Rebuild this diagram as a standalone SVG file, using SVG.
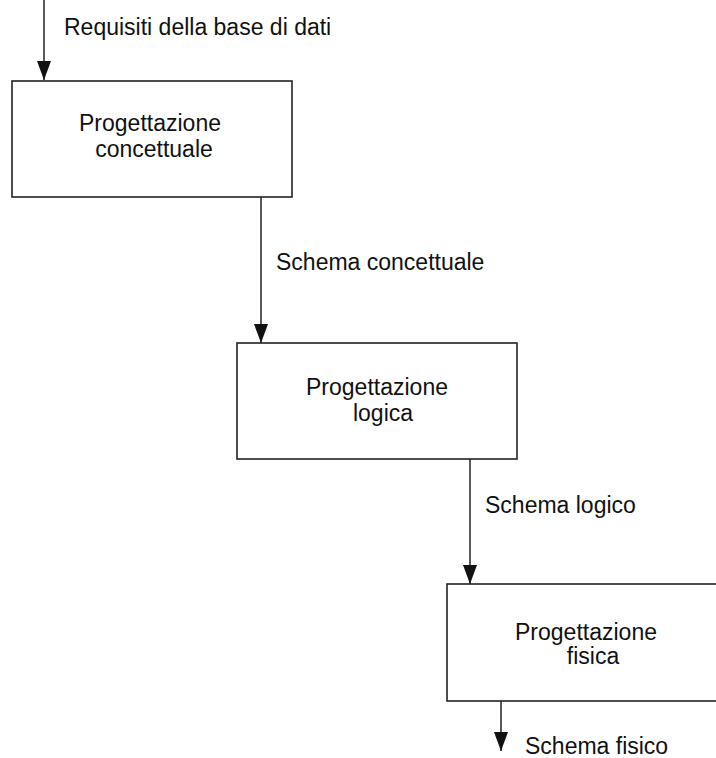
<svg xmlns="http://www.w3.org/2000/svg" width="716" height="758" viewBox="0 0 716 758">
<style>
.box{fill:#fff;stroke:#222;stroke-width:1.6}
.t{font-family:"Liberation Sans",Arial,sans-serif;font-size:23px;fill:#111}
.c{text-anchor:middle}
.ln{stroke:#222;stroke-width:1.5;fill:none}
</style>
<defs>
<marker id="ah" markerUnits="userSpaceOnUse" markerWidth="19" markerHeight="14" refX="19" refY="7" orient="auto">
<path d="M0,0 L19,7 L0,14 z" fill="#111"/>
</marker>
</defs>
<rect width="716" height="758" fill="#fff"/>
<g id="connectors">
<line class="ln" x1="44" y1="0" x2="44" y2="80" marker-end="url(#ah)"/>
<line class="ln" x1="261" y1="197" x2="261" y2="343" marker-end="url(#ah)"/>
<line class="ln" x1="470" y1="459" x2="470" y2="584" marker-end="url(#ah)"/>
<line class="ln" x1="501" y1="701" x2="501" y2="751" marker-end="url(#ah)"/>
<text class="t" x="64" y="35">Requisiti della base di dati</text>
<text class="t" x="276" y="270">Schema concettuale</text>
<text class="t" x="485" y="513">Schema logico</text>
<text class="t" x="525" y="754">Schema fisico</text>
</g>
<g id="n1">
<rect class="box" x="12" y="81" width="280" height="116"/>
<text class="t c" x="150" y="131">Progettazione</text>
<text class="t c" x="154" y="157">concettuale</text>
</g>
<g id="n2">
<rect class="box" x="237" y="343" width="280" height="116"/>
<text class="t c" x="377" y="395">Progettazione</text>
<text class="t c" x="383" y="421">logica</text>
</g>
<g id="n3">
<rect class="box" x="447" y="584" width="280" height="117"/>
<text class="t c" x="586" y="640">Progettazione</text>
<text class="t c" x="593" y="664">fisica</text>
</g>
</svg>
